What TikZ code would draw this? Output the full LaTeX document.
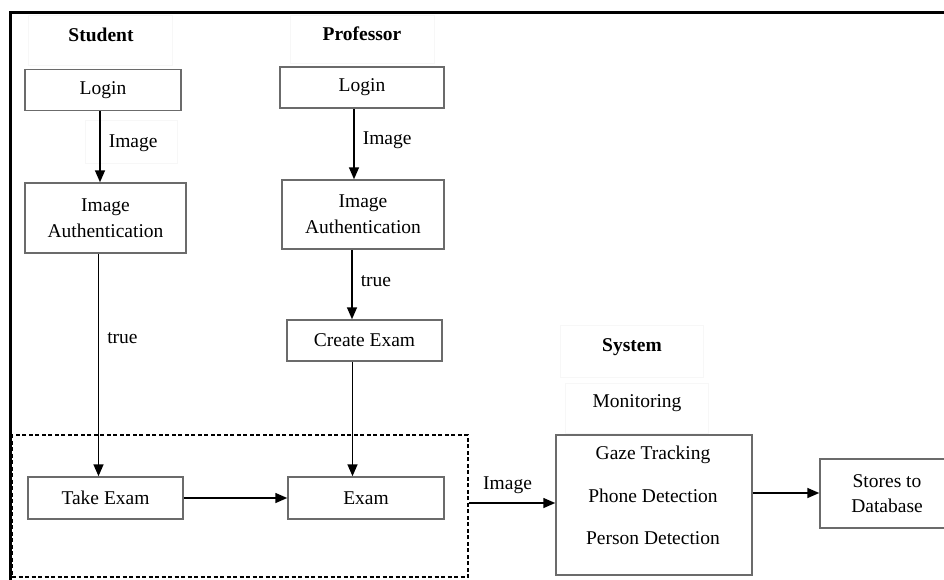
\documentclass[tikz,border=0pt]{standalone}
\usepackage{fontspec}
\setmainfont{Liberation Serif}
\usetikzlibrary{arrows.meta}
\begin{document}
\begin{tikzpicture}[x=1pt,y=-1pt,
  every node/.style={font=\fontsize{19.5}{26}\selectfont},
  procbox/.style={draw=black!58, line width=1.5pt, align=center, inner sep=0pt},
  lbl/.style={inner sep=0pt},
  ghost/.style={draw=black!3, line width=0.8pt, inner sep=0pt},
  title/.style={inner sep=0pt, font=\fontsize{19.5}{26}\selectfont\bfseries},
  arr/.style={draw=black, line width=1.6pt, -{Triangle[length=12pt,width=10pt]}}]
\useasboundingbox (0,0) rectangle (944,579);
\clip (0,0) rectangle (944,579);

% outer frame (top and left edges)
\draw[line width=3pt, line cap=rect] (10,579) -- (10,12) -- (950,12);

% faint label frames
\node[ghost, minimum width=144, minimum height=50] (gstud) at (100,40) {};
\node[ghost, minimum width=144, minimum height=48] (gprof) at (362,39) {};
\node[ghost, minimum width=92, minimum height=43] (gimg) at (131,141.5) {};
\node[ghost, minimum width=143, minimum height=52] (gsys) at (631.5,351) {};
\node[ghost, minimum width=143, minimum height=50] (gmon) at (636.5,408) {};

% column titles
\node[title] (student) at (101,35) {Student};
\node[title] (professor) at (362,34) {Professor};
\node[title] (system) at (632,347) {System};
\node[lbl] (monitoring) at (637,403) {Monitoring};

% student column
\node[procbox, minimum width=156, minimum height=41] (slogin) at (103,90) {Login};
\node[procbox, minimum width=161, minimum height=70] (sauth) at (105.5,218) {Image\\Authentication};
\node[procbox, minimum width=155, minimum height=42] (take) at (105.5,498) {Take Exam};

% professor column
\node[procbox, minimum width=164, minimum height=41] (plogin) at (362,87.5) {Login};
\node[procbox, minimum width=162, minimum height=69] (pauth) at (363,214.5) {Image\\Authentication};
\node[procbox, minimum width=155, minimum height=41] (create) at (364.5,340.5) {Create Exam};
\node[procbox, minimum width=156, minimum height=42] (exam) at (366,498) {Exam};

% exam group
\node[draw=black, dashed, dash pattern=on 4pt off 2.5pt, line width=1.2pt,
      minimum width=456, minimum height=142, inner sep=0pt] (group) at (240,506) {};

% monitoring system
\node[procbox, minimum width=196, minimum height=140] (mon) at (654,505) {};
\node[lbl] (gaze) at (653,455) {Gaze Tracking};
\node[lbl] (phone) at (653,496) {Phone Detection};
\node[lbl] (person) at (653,538) {Person Detection};
\node[procbox, minimum width=134, minimum height=69, font=\fontsize{19.5}{25}\selectfont] (store) at (887,493.5) {Stores to\\Database};

% connectors
\draw[arr] ([xshift=-3pt]slogin.south) -- ([xshift=-3pt]slogin.south |- sauth.north)
  node[lbl, pos=0.45, right=8pt] (simg) {Image};
\draw[arr] ([xshift=-7pt]sauth.south) -- ([xshift=-7pt]sauth.south |- take.north)
  node[lbl, pos=0.38, right=8pt] (strue) {true};
\draw[arr] (take.east) -- (exam.west);

\draw[arr] ([xshift=-8pt]plogin.south) -- ([xshift=-8pt]plogin.south |- pauth.north)
  node[lbl, pos=0.45, right=8pt] (pimg) {Image};
\draw[arr] ([xshift=-11pt]pauth.south) -- ([xshift=-11pt]pauth.south |- create.north)
  node[lbl, pos=0.45, right=8pt] (ptrue) {true};
\draw[arr] ([xshift=-12pt]create.south) -- ([xshift=-12pt]create.south |- exam.north);

\draw[arr] ([yshift=3pt]group.east) -- ([yshift=3pt]group.east -| mon.west)
  node[lbl, pos=0.45, above=9pt] (gimage) {Image};
\draw[arr] ([yshift=12pt]mon.east) -- ([yshift=12pt]mon.east -| store.west);
\end{tikzpicture}
\end{document}
